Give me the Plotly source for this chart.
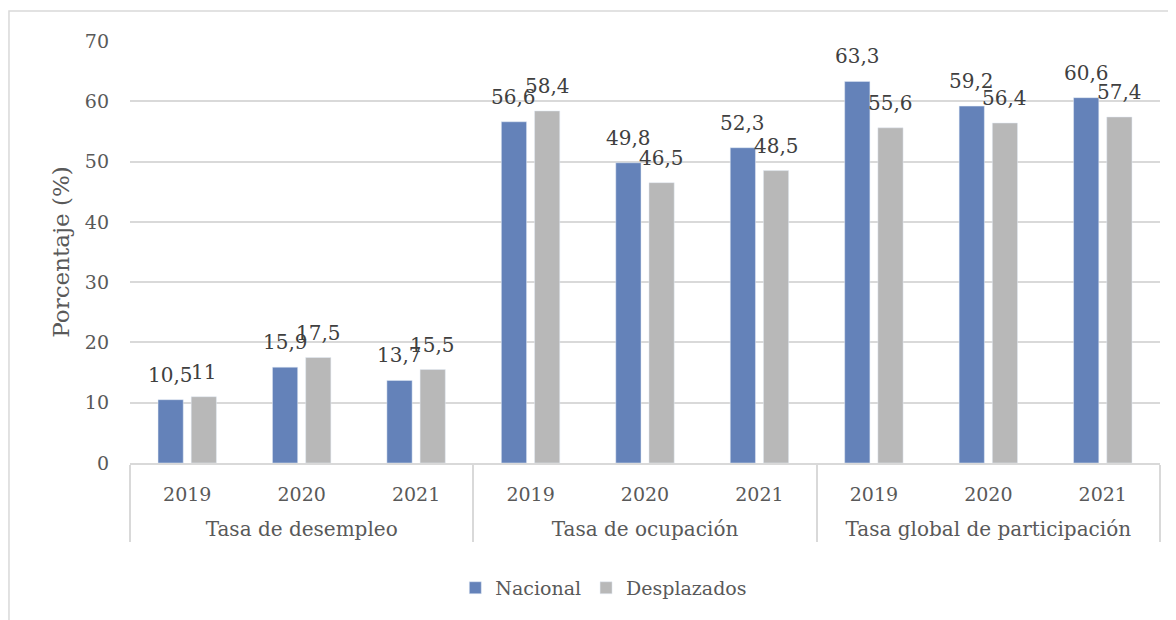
import plotly.graph_objects as go

# Data
groupNames  = ['Tasa de desempleo', 'Tasa de ocupación', 'Tasa global de participación']
yearNames   = ['2019', '2020', '2021']
nacional    = [10.5, 15.9, 13.7, 56.6, 49.8, 52.3, 63.3, 59.2, 60.6]
desplazados = [11, 17.5, 15.5, 58.4, 46.5, 48.5, 55.6, 56.4, 57.4]

# group labels sit one line lower and a bit larger, as in the original
groups = [f'<br><span style="font-size:20px">{g}</span>' for g in groupNames for _ in yearNames]
years  = yearNames * len(groupNames)

def Label(v):
    return f'{v:g}'.replace('.', ',')

fontName  = 'DejaVu Serif'
gridColor = '#d9d9d9'
textColor = '#595959'
bargap    = 0.42

fig = go.Figure()

fig.add_trace(go.Bar(x=[groups, years], y=nacional, name='Nacional', marker_color='#6482b9'))
fig.add_trace(go.Bar(x=[groups, years], y=desplazados, name='Desplazados', marker_color='#b8b8b8'))

# data labels a little above each bar (Excel style), offset to each bar's slot
slot = (1 - bargap) / 4
annotations = []
for i, (n, d) in enumerate(zip(nacional, desplazados)):
    for xPos, v in ((i - slot, n), (i + slot, d)):
        annotations.append(dict(x=xPos, y=v, xref='x', yref='y', text=Label(v), showarrow=False,
                                yanchor='bottom', yshift=11,
                                font=dict(family=fontName, size=20, color='#404040')))

# page body has an 8px margin, so the figure is 8px smaller and margins shifted
fig.update_layout(
    width=1168, height=612,
    margin=dict(l=122, r=16, t=33, b=157),
    paper_bgcolor='white', plot_bgcolor='white',
    font=dict(family=fontName, size=19, color=textColor),
    barmode='group', bargap=bargap, bargroupgap=0.24,
    showlegend=True,
    legend=dict(orientation='h', x=0.46, xanchor='center', y=-0.296, yanchor='middle',
                font=dict(family=fontName, size=19, color=textColor), itemwidth=30),
    xaxis=dict(type='multicategory', showline=True, linecolor=gridColor, linewidth=1.5,
               showdividers=True, dividercolor=gridColor, dividerwidth=1.5, ticks='',
               ticklabelstandoff=13,
               tickfont=dict(family=fontName, size=19, color=textColor)),
    yaxis=dict(range=[0, 70], dtick=10, showgrid=True, gridcolor=gridColor, gridwidth=1.5,
               zeroline=False, ticks='', ticklabelstandoff=20,
               title=dict(text='Porcentaje (%)', font=dict(family=fontName, size=23, color=textColor), standoff=8),
               tickfont=dict(family=fontName, size=19, color=textColor)),
    annotations=annotations,
    shapes=[dict(type='rect', xref='paper', yref='paper', x0=-0.1175, y0=-0.6, x1=1.2, y1=1.0711,
                 line=dict(color=gridColor, width=1.5), fillcolor='rgba(0,0,0,0)', layer='below')],
)

fig.write_html('out.html')
